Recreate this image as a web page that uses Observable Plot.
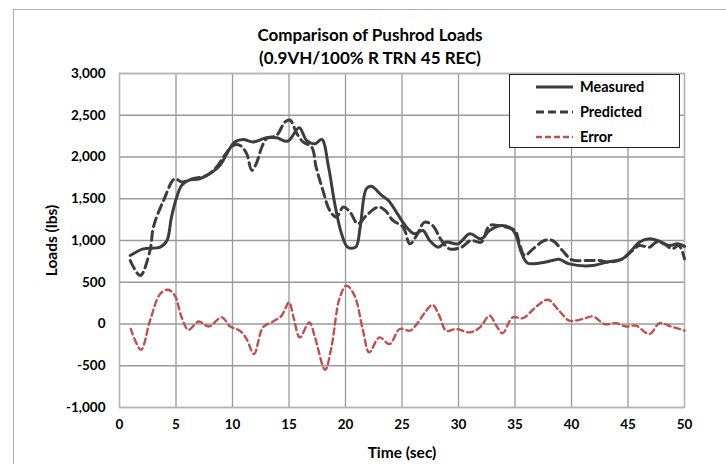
<!DOCTYPE html>
<html>
<head>
<meta charset="utf-8">
<script src="https://cdn.jsdelivr.net/npm/d3@7"></script>
<script src="https://cdn.jsdelivr.net/npm/@observablehq/plot@0.6"></script>
<style>
  html, body { margin: 0; padding: 0; background: #fff; }
  #wrap { position: relative; width: 726px; height: 464px; overflow: hidden; font-family: Lato, "Open Sans", sans-serif; }
  #frame { position: absolute; left: 13px; top: 9px; width: 760px; height: 500px; border-top: 1.5px solid #b0b0b0; border-left: 1.5px solid #b0b0b0; }
  .title { position: absolute; left: 0; width: 740px; text-align: center; font-weight: bold; font-size: 17px; color: #000; }
  #legend { position: absolute; left: 509px; top: 74px; width: 171px; height: 74px; border: 1px solid #222; background: #fff; box-sizing: border-box; }
  .lrow { position: absolute; left: 0; height: 20px; font-weight: bold; font-size: 14.5px; color: #000; }
  .lrow svg { position: absolute; left: 26px; top: 4px; }
  .lrow span { position: absolute; left: 70px; top: 0; white-space: nowrap; line-height: 20px; }
</style>
</head>
<body>
<div id="wrap">
  <div id="frame"></div>
  <div id="chart" style="position:absolute;left:0;top:0;"></div>
  <div class="title" style="top:24px;">Comparison of Pushrod Loads</div>
  <div class="title" style="top:47px;">(0.9VH/100% R TRN 45 REC)</div>
  <div id="legend"></div>
</div>
<script>
// ---- Data ----
const seriesNames = ["Measured", "Predicted", "Error"];

const timeMeasured = [0.95, 2.1, 3.6, 4.2, 4.6, 5.07, 5.5, 6.1, 7.1, 8.0, 8.9, 9.5, 10.2, 10.95, 11.8, 13.0, 13.9, 14.9, 15.9, 16.55, 17.3, 17.9, 18.5, 19.05, 19.65, 20.2, 20.9, 21.3, 21.85, 22.3, 23.2, 23.8, 24.5, 25.4, 26.1, 26.85, 27.45, 28.2, 28.9, 29.95, 31.0, 32.0, 32.75, 33.8, 34.7, 35.1, 35.55, 36.1, 37.2, 38.3, 38.9, 39.8, 41.9, 43.05, 44.5, 45.3, 46.0, 46.9, 47.8, 48.65, 49.4, 50.0];
const measured = [820, 900, 920, 1000, 1280, 1520, 1660, 1720, 1740, 1800, 1900, 2040, 2180, 2210, 2180, 2230, 2230, 2190, 2350, 2200, 2160, 2210, 1880, 1440, 1080, 920, 920, 1160, 1620, 1650, 1540, 1480, 1340, 1160, 1080, 1120, 1000, 920, 980, 960, 1080, 1020, 1120, 1180, 1140, 1060, 860, 730, 730, 760, 775, 720, 700, 740, 780, 880, 980, 1020, 990, 940, 960, 930];

const timePredicted = [0.95, 1.83, 2.7, 3.0, 3.9, 4.9, 5.5, 6.5, 7.7, 8.6, 9.3, 10.1, 10.65, 11.25, 11.7, 12.1, 12.6, 13.0, 13.9, 14.65, 15.1, 15.7, 16.25, 17.0, 17.4, 18.0, 18.6, 19.2, 19.8, 20.4, 21.1, 21.85, 22.9, 23.5, 24.2, 25.1, 25.7, 26.3, 27.0, 27.7, 28.5, 29.2, 30.25, 31.1, 32.0, 32.75, 33.5, 34.2, 35.0, 35.4, 35.85, 36.6, 37.6, 38.3, 39.2, 40.0, 41.3, 42.5, 43.3, 44.5, 45.4, 46.0, 46.9, 47.5, 48.2, 48.9, 49.5, 50.0];
const predicted = [760, 580, 880, 1160, 1480, 1740, 1700, 1740, 1780, 1880, 2020, 2140, 2140, 2040, 1840, 1920, 2120, 2220, 2260, 2420, 2440, 2280, 2180, 2120, 1880, 1600, 1360, 1280, 1400, 1340, 1200, 1300, 1400, 1360, 1240, 1160, 960, 1060, 1220, 1180, 1000, 900, 920, 1000, 980, 1180, 1180, 1160, 1120, 960, 820, 900, 1000, 1000, 880, 770, 760, 760, 740, 780, 880, 940, 920, 980, 960, 900, 940, 780];

const timeError = [1.0, 1.9, 2.7, 3.6, 4.3, 4.9, 5.5, 6.1, 7.0, 7.9, 9.05, 9.8, 10.65, 11.25, 11.9, 12.7, 13.6, 14.35, 15.0, 15.4, 15.95, 16.8, 17.3, 18.2, 18.75, 19.5, 20.1, 20.8, 21.55, 22.1, 23.0, 23.9, 24.8, 25.7, 26.2, 27.15, 27.7, 28.3, 28.9, 29.8, 31.0, 31.9, 32.75, 33.35, 33.9, 34.8, 35.7, 36.9, 37.9, 38.9, 39.8, 41.0, 41.9, 42.9, 43.95, 44.8, 45.7, 46.9, 47.8, 48.8, 49.8, 50.0];
const errorVals = [-60, -310, 40, 360, 410, 340, 80, -70, 30, -30, 80, -30, -80, -180, -360, -40, 30, 100, 260, 80, -160, 20, -160, -550, -280, 320, 460, 340, -80, -340, -160, -240, -60, -80, -20, 160, 230, 100, -80, -60, -100, -40, 100, -20, -110, 80, 70, 210, 290, 160, 40, 60, 90, 0, 10, -30, -20, -120, 10, -30, -70, -80];

const xTicks = [0, 5, 10, 15, 20, 25, 30, 35, 40, 45, 50];
const yTicks = [-1000, -500, 0, 500, 1000, 1500, 2000, 2500, 3000];

// ---- Build tables ----
const toRows = (ts, vs, name) => ts.map((t, i) => ({t, v: vs[i], s: name}));
const mRows = toRows(timeMeasured, measured, seriesNames[0]);
const pRows = toRows(timePredicted, predicted, seriesNames[1]);
const eRows = toRows(timeError, errorVals, seriesNames[2]);

const dark = "#3d3d3d";
const red = "#c0504d";
const fmt = d => d.toLocaleString("en-US");

const chart = Plot.plot({
  width: 726,
  height: 464,
  marginLeft: 119,
  marginRight: 42,
  marginTop: 73,
  marginBottom: 57,
  style: {fontFamily: "Lato, 'Open Sans', sans-serif", fontSize: "13.5px", fontWeight: "bold", color: "#000", background: "transparent"},
  x: {domain: [0, 50], ticks: xTicks, tickSize: 0, tickPadding: 12, tickFormat: fmt, label: null},
  y: {domain: [-1000, 3000], ticks: yTicks, tickSize: 0, tickPadding: 14, tickFormat: fmt, label: null},
  marks: [
    Plot.gridX(xTicks, {stroke: "#9a9a9a", strokeOpacity: 1, strokeWidth: 1.3}),
    Plot.gridY(yTicks, {stroke: "#9a9a9a", strokeOpacity: 1, strokeWidth: 1.3}),
    Plot.frame({stroke: "#b5b5b5", strokeWidth: 1.3}),
    Plot.axisX({ticks: xTicks, tickSize: 0, tickPadding: 12, tickFormat: fmt, label: "Time (sec)", labelAnchor: "center", labelArrow: "none", labelOffset: 50, fontSize: 13.5}),
    Plot.axisY({ticks: yTicks, tickSize: 0, tickPadding: 14, tickFormat: fmt, label: "Loads (lbs)", labelAnchor: "center", labelArrow: "none", labelOffset: 74, fontSize: 13.5}),
    Plot.line(eRows, {x: "t", y: "v", stroke: red, strokeWidth: 2.4, strokeDasharray: "6,4", curve: "catmull-rom"}),
    Plot.line(pRows, {x: "t", y: "v", stroke: dark, strokeWidth: 3, strokeDasharray: "9,5", curve: "catmull-rom"}),
    Plot.line(mRows, {x: "t", y: "v", stroke: dark, strokeWidth: 3, curve: "catmull-rom"})
  ]
});
// enlarge axis titles
chart.querySelectorAll("g[aria-label='x-axis label'] text, g[aria-label='y-axis label'] text").forEach(t => { t.style.fontSize = "15.5px"; });
document.getElementById("chart").appendChild(chart);

// ---- Legend ----
const legendItems = [
  {name: seriesNames[0], color: dark, dash: null, w: 3},
  {name: seriesNames[1], color: dark, dash: "8,4", w: 3},
  {name: seriesNames[2], color: red, dash: "6,3", w: 2.4}
];
const lg = document.getElementById("legend");
legendItems.forEach((it, i) => {
  const row = document.createElement("div");
  row.className = "lrow";
  row.style.top = (2 + i * 25) + "px";
  row.style.width = "170px";
  row.innerHTML = `<svg width="40" height="12"><line x1="0" x2="37" y1="6" y2="6" stroke="${it.color}" stroke-width="${it.w}" ${it.dash ? `stroke-dasharray="${it.dash}"` : ""}/></svg><span>${it.name}</span>`;
  lg.appendChild(row);
});
</script>
</body>
</html>
